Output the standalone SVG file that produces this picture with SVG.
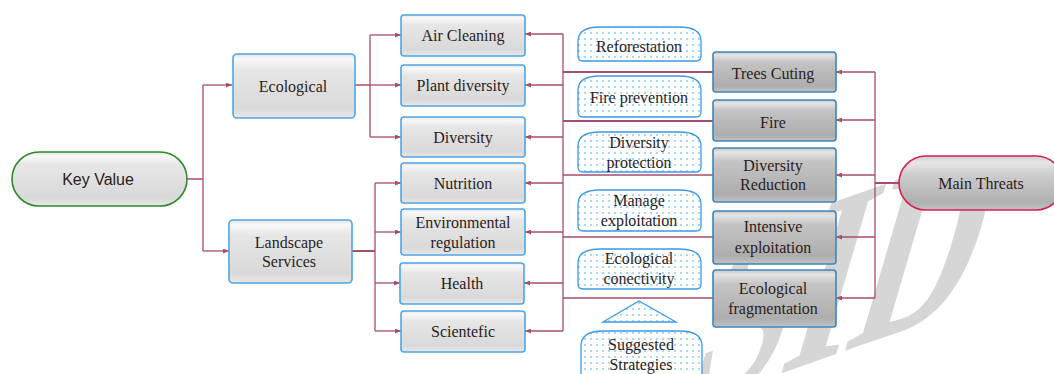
<svg xmlns="http://www.w3.org/2000/svg" width="1054" height="374" viewBox="0 0 1054 374">
<defs>
<linearGradient id="gLight" x1="0" y1="0" x2="0" y2="1">
<stop offset="0" stop-color="#e6e6e6"/><stop offset="0.08" stop-color="#f8f8f8"/><stop offset="0.25" stop-color="#e6e6e6"/><stop offset="0.85" stop-color="#d9d9d9"/><stop offset="1" stop-color="#e8e8e8"/>
</linearGradient>
<linearGradient id="gDark" x1="0" y1="0" x2="0" y2="1">
<stop offset="0" stop-color="#c9c9c9"/><stop offset="0.08" stop-color="#e4e4e4"/><stop offset="0.25" stop-color="#c4c4c4"/><stop offset="0.85" stop-color="#adadad"/><stop offset="1" stop-color="#c2c2c2"/>
</linearGradient>
<linearGradient id="gMT" x1="0" y1="0" x2="0" y2="1">
<stop offset="0" stop-color="#d0d0d0"/><stop offset="0.12" stop-color="#e6e6e6"/><stop offset="0.35" stop-color="#cdcdcd"/><stop offset="0.85" stop-color="#b0b0b0"/><stop offset="1" stop-color="#c0c0c0"/>
</linearGradient>
<pattern id="dots" width="6" height="6" patternUnits="userSpaceOnUse">
<rect width="6" height="6" fill="#ffffff"/>
<circle cx="3" cy="3" r="0.8" fill="#3aa4ee"/>
</pattern>
<marker id="arr" markerWidth="6" markerHeight="5" refX="6" refY="2.5" orient="auto" markerUnits="userSpaceOnUse">
<path d="M0,0 L6,2.5 L0,5 z" fill="#a64d72"/>
</marker>
<style>
.t{font-family:"Liberation Serif","Times New Roman",serif;font-size:16px;fill:#2b1d1d;text-anchor:middle}
.ts{font-family:"Liberation Sans",Arial,sans-serif;font-size:16px;fill:#2b1d1d;text-anchor:middle}
.bl{fill:url(#gLight);stroke:#4ea6e6;stroke-width:1.6}
.bd{fill:url(#gDark);stroke:#3c86bd;stroke-width:1.6}
.st{fill:url(#dots);stroke:#3b9ae8;stroke-width:1.3}
.c{fill:none;stroke:#a64d72;stroke-width:1.3}
.ck{fill:none;stroke:#a64d72;stroke-width:2}
.a{marker-end:url(#arr)}
.wm{font-family:"Liberation Serif","Times New Roman",serif;font-size:200px;font-weight:bold;fill:#d6d6d6}
</style>
</defs>
<rect width="1054" height="374" fill="#ffffff"/>
<g id="watermark">
<text class="wm" transform="matrix(0.85,-0.30,-0.38,1.30,681.3,408.6)">SID</text>
</g>
<g id="connectors">
<path class="c" d="M187,179 H203 M203,85 V251"/>
<path class="c a" d="M203,85 H232"/>
<path class="c a" d="M203,251 H229"/>
<path class="c" d="M355,85 H370 M370,35 V137"/>
<path class="c a" d="M370,35 H401"/>
<path class="c a" d="M370,85 H401"/>
<path class="c a" d="M370,137 H401"/>
<path class="ck" d="M352,251 H375"/>
<path class="c" d="M375,183 V331"/>
<path class="c a" d="M375,183 H401"/>
<path class="c a" d="M375,232 H401"/>
<path class="c a" d="M375,283 H400"/>
<path class="c a" d="M375,331 H401"/>
<path class="c" d="M563,34 V331"/>
<path class="c a" d="M563,34 H525"/>
<path class="c a" d="M563,85 H525"/>
<path class="c a" d="M563,137 H525"/>
<path class="c a" d="M563,183 H525"/>
<path class="c a" d="M563,232 H525"/>
<path class="c a" d="M563,283 H524"/>
<path class="c a" d="M563,331 H525"/>
<path class="ck" d="M563,72 H713 M563,121 H713"/>
<path class="c" d="M563,175 H713 M563,237 H713 M563,298 H713"/>
<path class="c" d="M875,72 V298"/>
<path class="ck" d="M875,183 H899"/>
<path class="c a" d="M875,72 H836"/>
<path class="c a" d="M875,120 H836"/>
<path class="c a" d="M875,175 H836"/>
<path class="c a" d="M875,237 H836"/>
<path class="c a" d="M875,298 H836"/>
</g>
<g id="key-value">
<rect x="12" y="152" width="175" height="54" rx="27" fill="url(#gLight)" stroke="#2b8a2b" stroke-width="1.6"/>
<text class="ts" x="98" y="185">Key Value</text>
</g>
<g id="ecological">
<rect class="bl" x="233" y="54" width="122" height="64" rx="4" stroke="#5aaef5"/>
<text class="t" x="293" y="92">Ecological</text>
</g>
<g id="landscape-services">
<rect class="bl" x="229" y="220" width="123" height="63" rx="4" stroke="#5aaef5"/>
<text class="t" x="289" y="247.5">Landscape</text>
<text class="t" x="289" y="266.5">Services</text>
</g>
<g id="air-cleaning">
<rect class="bl" x="401" y="15" width="124" height="41" rx="3"/>
<text class="t" x="463" y="41">Air Cleaning</text>
</g>
<g id="plant-diversity">
<rect class="bl" x="401" y="65" width="124" height="41" rx="3"/>
<text class="t" x="463" y="91">Plant diversity</text>
</g>
<g id="diversity">
<rect class="bl" x="401" y="117" width="124" height="40" rx="3"/>
<text class="t" x="463" y="143">Diversity</text>
</g>
<g id="nutrition">
<rect class="bl" x="401" y="163" width="124" height="40" rx="3"/>
<text class="t" x="463" y="189">Nutrition</text>
</g>
<g id="environmental-regulation">
<rect class="bl" x="401" y="209" width="124" height="46" rx="3"/>
<text class="t" x="463" y="228">Environmental</text>
<text class="t" x="463" y="248">regulation</text>
</g>
<g id="health">
<rect class="bl" x="400" y="263" width="124" height="41" rx="3"/>
<text class="t" x="462" y="289">Health</text>
</g>
<g id="scientefic">
<rect class="bl" x="401" y="311" width="124" height="41" rx="3"/>
<text class="t" x="463" y="337">Scientefic</text>
</g>
<g id="reforestation">
<path class="st" d="M578,56 V41 C578,31 586,27 600,27 H679 C693,27 701,31 701,41 V56 Q701,61 696,61 H583 Q578,61 578,56 Z"/>
<text class="t" x="639" y="52">Reforestation</text>
</g>
<g id="fire-prevention">
<path class="st" d="M578,112 V90 C578,80 586,76 600,76 H679 C693,76 701,80 701,90 V112 Q701,117 696,117 H583 Q578,117 578,112 Z"/>
<text class="t" x="639" y="103">Fire prevention</text>
</g>
<g id="diversity-protection">
<path class="st" d="M578,167 V146 C578,136 586,132 600,132 H679 C693,132 701,136 701,146 V167 Q701,172 696,172 H583 Q578,172 578,167 Z"/>
<text class="t" x="639" y="148">Diversity</text>
<text class="t" x="639" y="168">protection</text>
</g>
<g id="manage-exploitation">
<path class="st" d="M578,226 V204 C578,194 586,190 600,190 H679 C693,190 701,194 701,204 V226 Q701,231 696,231 H583 Q578,231 578,226 Z"/>
<text class="t" x="639" y="206">Manage</text>
<text class="t" x="639" y="226">exploitation</text>
</g>
<g id="ecological-conectivity">
<path class="st" d="M578,284 V263 C578,253 586,249 600,249 H679 C693,249 701,253 701,263 V284 Q701,289 696,289 H583 Q578,289 578,284 Z"/>
<text class="t" x="639" y="264">Ecological</text>
<text class="t" x="639" y="284">conectivity</text>
</g>
<g id="triangle">
<path class="st" d="M603,322 L639,301 L676,322 Z"/>
</g>
<g id="suggested-strategies">
<path class="st" d="M581,380 V346 C581,336 589,331 603,331 H680 C694,331 702,336 702,346 V380 Z"/>
<text class="t" x="641" y="350">Suggested</text>
<text class="t" x="641" y="370">Strategies</text>
</g>
<g id="trees-cuting">
<rect class="bd" x="713" y="52" width="123" height="40" rx="3"/>
<text class="t" x="773" y="79">Trees Cuting</text>
</g>
<g id="fire">
<rect class="bd" x="713" y="100" width="123" height="41" rx="3"/>
<text class="t" x="773" y="128">Fire</text>
</g>
<g id="diversity-reduction">
<rect class="bd" x="713" y="148" width="123" height="54" rx="3"/>
<text class="t" x="773" y="171">Diversity</text>
<text class="t" x="773" y="190">Reduction</text>
</g>
<g id="intensive-exploitation">
<rect class="bd" x="713" y="211" width="123" height="53" rx="3"/>
<text class="t" x="773" y="232">Intensive</text>
<text class="t" x="773" y="253">exploitation</text>
</g>
<g id="ecological-fragmentation">
<rect class="bd" x="713" y="270" width="123" height="57" rx="3"/>
<text class="t" x="773" y="294">Ecological</text>
<text class="t" x="773" y="314">fragmentation</text>
</g>
<g id="main-threats">
<rect x="899" y="156" width="164" height="54" rx="27" fill="url(#gMT)" stroke="#d4224c" stroke-width="1.6"/>
<text class="t" x="981" y="189">Main Threats</text>
</g>
</svg>
